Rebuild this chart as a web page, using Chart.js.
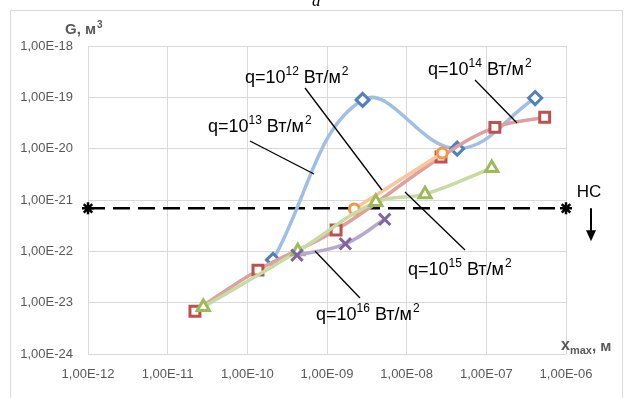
<!DOCTYPE html>
<html>
<head>
<meta charset="utf-8">
<script src="https://cdn.jsdelivr.net/npm/chart.js@4"></script>
<style>
  html, body { margin: 0; padding: 0; background: #fff; }
  #wrap { width: 626px; height: 398px; }
</style>
</head>
<body>
<div id="wrap"><canvas id="chart" width="626" height="398"></canvas></div>
<script>
// Data (x = x_max, m; y = G, m^3)
const q12X = [2.2e-9, 2.8e-8];
const q12G = [6.7e-22, 8.2e-21];
const q13X = [2.1e-10, 2.8e-9, 4.3e-8, 4.1e-7];
const q13G = [6.8e-23, 8.9e-20, 1.0e-20, 9.7e-20];
const q14X = [2.2e-11, 1.36e-10, 1.3e-9, 2.7e-8, 1.28e-7, 5.4e-7];
const q14G = [6.8e-24, 4.3e-23, 2.6e-22, 6.9e-21, 2.6e-20, 4.1e-20];
const q15X = [2.8e-11, 4.3e-10, 4.1e-9, 1.7e-8, 1.17e-7];
const q15G = [8.2e-24, 1.0e-22, 9.1e-22, 1.3e-21, 4.2e-21];
const q16X = [4.2e-10, 1.7e-9, 5.3e-9];
const q16G = [8.4e-23, 1.4e-22, 4.2e-22];

// threshold line "НС"
const ncX = [1e-12, 1e-6, 3.9e-6];
const ncLevel = 6.9e-22;

// tick labels
const xTickValues = [1e-12, 1e-11, 1e-10, 1e-9, 1e-8, 1e-7, 1e-6];
const xTickLabels = ['1,00E-12', '1,00E-11', '1,00E-10', '1,00E-09', '1,00E-08', '1,00E-07', '1,00E-06'];
const yTickValues = [1e-24, 1e-23, 1e-22, 1e-21, 1e-20, 1e-19, 1e-18];
const yTickLabels = ['1,00E-24', '1,00E-23', '1,00E-22', '1,00E-21', '1,00E-20', '1,00E-19', '1,00E-18'];

const toPoints = (xs, ys) => xs.map((x, i) => ({ x: x, y: ys[i] }));

// labels with leader lines, positions as log10 exponents
const notes = [
    { sup: '12', tx: -10.03, ty: -18.62, from: [-9.276, -18.818], to: [-8.31, -20.805] },
    { sup: '13', tx: -10.494, ty: -19.578, from: [-9.967, -19.851], to: [-9.163, -20.494] },
    { sup: '14', tx: -7.732, ty: -18.468, from: [-7.142, -18.662], to: [-6.615, -19.5] },
    { sup: '15', tx: -7.983, ty: -22.364, from: [-8.021, -20.844], to: [-7.268, -21.974] },
    { sup: '16', tx: -9.138, ty: -23.24, from: [-9.151, -21.994], to: [-8.586, -22.909] }
];

const FONT = '"Liberation Sans", Arial, sans-serif';
const GREY = '#595959';

function series(label, xs, ys, lineColor, markColor, style, radius) {
    return {
        label: label,
        data: toPoints(xs, ys),
        showLine: true,
        tension: 0.4,
        borderColor: lineColor,
        borderWidth: 3.5,
        pointStyle: style,
        pointRadius: radius,
        pointBorderColor: markColor,
        pointBackgroundColor: '#fff',
        pointBorderWidth: 3
    };
}

const decorations = {
    id: 'decorations',
    afterDatasetsDraw(chart) {
        const ctx = chart.ctx;
        const xs = chart.scales.x, ys = chart.scales.y;
        const px = e => xs.getPixelForValue(Math.pow(10, e));
        const py = e => ys.getPixelForValue(Math.pow(10, e));
        ctx.save();

        // leader lines and labels
        ctx.strokeStyle = '#000';
        ctx.lineWidth = 1.3;
        ctx.fillStyle = '#000';
        ctx.textBaseline = 'middle';
        ctx.textAlign = 'left';
        notes.forEach(n => {
            ctx.beginPath();
            ctx.moveTo(px(n.from[0]), py(n.from[1]));
            ctx.lineTo(px(n.to[0]), py(n.to[1]));
            ctx.stroke();
            let x = px(n.tx);
            const y = py(n.ty);
            ctx.font = '18px ' + FONT;
            ctx.fillText('q=10', x, y);
            x += ctx.measureText('q=10').width;
            ctx.font = '12px ' + FONT;
            ctx.fillText(n.sup, x, y - 6);
            x += ctx.measureText(n.sup).width;
            ctx.font = '18px ' + FONT;
            ctx.fillText(' Вт/м', x, y);
            x += ctx.measureText(' Вт/м').width;
            ctx.font = '12px ' + FONT;
            ctx.fillText('2', x + 1, y - 6);
        });

        // НС arrow
        const ax = px(-5.686);
        const ay = ys.getPixelForValue(ncLevel);
        ctx.lineWidth = 2;
        ctx.beginPath();
        ctx.moveTo(ax, ay);
        ctx.lineTo(ax, ay + 24);
        ctx.stroke();
        ctx.beginPath();
        ctx.moveTo(ax - 5, ay + 22);
        ctx.lineTo(ax + 5, ay + 22);
        ctx.lineTo(ax, ay + 33);
        ctx.closePath();
        ctx.fill();
        ctx.font = '17px ' + FONT;
        ctx.textAlign = 'center';
        ctx.fillText('НС', ax - 2, ay - 16);

        // axis titles
        ctx.fillStyle = GREY;
        ctx.textAlign = 'left';
        ctx.font = 'bold 15px ' + FONT;
        ctx.fillText('G, м', 65, 30);
        let w = ctx.measureText('G, м').width;
        ctx.font = 'bold 10px ' + FONT;
        ctx.fillText('3', 65 + w + 1, 25);

        ctx.font = 'bold 16px ' + FONT;
        ctx.fillText('x', 561, 346);
        w = ctx.measureText('x').width;
        ctx.font = 'bold 11px ' + FONT;
        ctx.fillText('max', 561 + w, 351);
        w += ctx.measureText('max').width;
        ctx.font = 'bold 15px ' + FONT;
        ctx.fillText(', м', 561 + w, 347);

        // frame and caption
        ctx.strokeStyle = '#d9d9d9';
        ctx.lineWidth = 1;
        ctx.strokeRect(10.5, 10.5, 612, 400);
        ctx.fillStyle = '#000';
        ctx.font = 'italic 17px "Liberation Serif", serif';
        ctx.textBaseline = 'alphabetic';
        ctx.fillText('a', 312, 6);
        ctx.restore();
    }
};

new Chart(document.getElementById('chart').getContext('2d'), {
    type: 'scatter',
    data: {
        datasets: [
            series('q=1e16', q16X, q16G, '#b9a8d0', '#8064a2', 'crossRot', 8),
            series('q=1e15', q15X, q15G, '#c6dca2', '#9bbb59', 'triangle', 7),
            series('q=1e12', q12X, q12G, '#fbc698', '#f79646', 'circle', 5),
            series('q=1e14', q14X, q14G, '#dfa0a0', '#c0504d', 'rect', 7),
            series('q=1e13', q13X, q13G, '#a0bfe4', '#4f81bd', 'rectRot', 6.5),
            {
                label: 'НС',
                data: ncX.map(x => ({ x: x, y: ncLevel })),
                showLine: true,
                clip: false,
                borderColor: '#000',
                borderWidth: 2.5,
                segment: { borderDash: c => c.p0DataIndex === 1 ? [] : [17, 8] },
                pointStyle: 'star',
                pointRadius: [6, 6, 0],
                pointBorderColor: '#000',
                pointBorderWidth: 2.5
            }
        ]
    },
    options: {
        responsive: false,
        animation: false,
        devicePixelRatio: 1,
        layout: { padding: { left: 0, top: 46, right: 60, bottom: 0 } },
        plugins: { legend: { display: false }, tooltip: { enabled: false } },
        scales: {
            x: {
                type: 'logarithmic',
                min: 1e-12,
                max: 1e-6,
                afterBuildTicks: s => { s.ticks = xTickValues.map(v => ({ value: v })); },
                afterFit: s => { s.height = 44; },
                ticks: {
                    callback: (v, i) => xTickLabels[i],
                    color: GREY,
                    font: { family: FONT, size: 13 },
                    padding: 13,
                    maxRotation: 0,
                    autoSkip: false
                },
                grid: { color: '#d9d9d9', lineWidth: 1, drawTicks: false },
                border: { display: false }
            },
            y: {
                type: 'logarithmic',
                min: 1e-24,
                max: 1e-18,
                afterBuildTicks: s => { s.ticks = yTickValues.map(v => ({ value: v })); },
                afterFit: s => { s.width = 88; },
                ticks: {
                    callback: (v, i) => yTickLabels[i],
                    color: GREY,
                    font: { family: FONT, size: 13 },
                    padding: 15,
                    autoSkip: false
                },
                grid: { color: '#d9d9d9', lineWidth: 1, drawTicks: false },
                border: { display: false }
            }
        }
    },
    plugins: [decorations]
});
</script>
</body>
</html>
